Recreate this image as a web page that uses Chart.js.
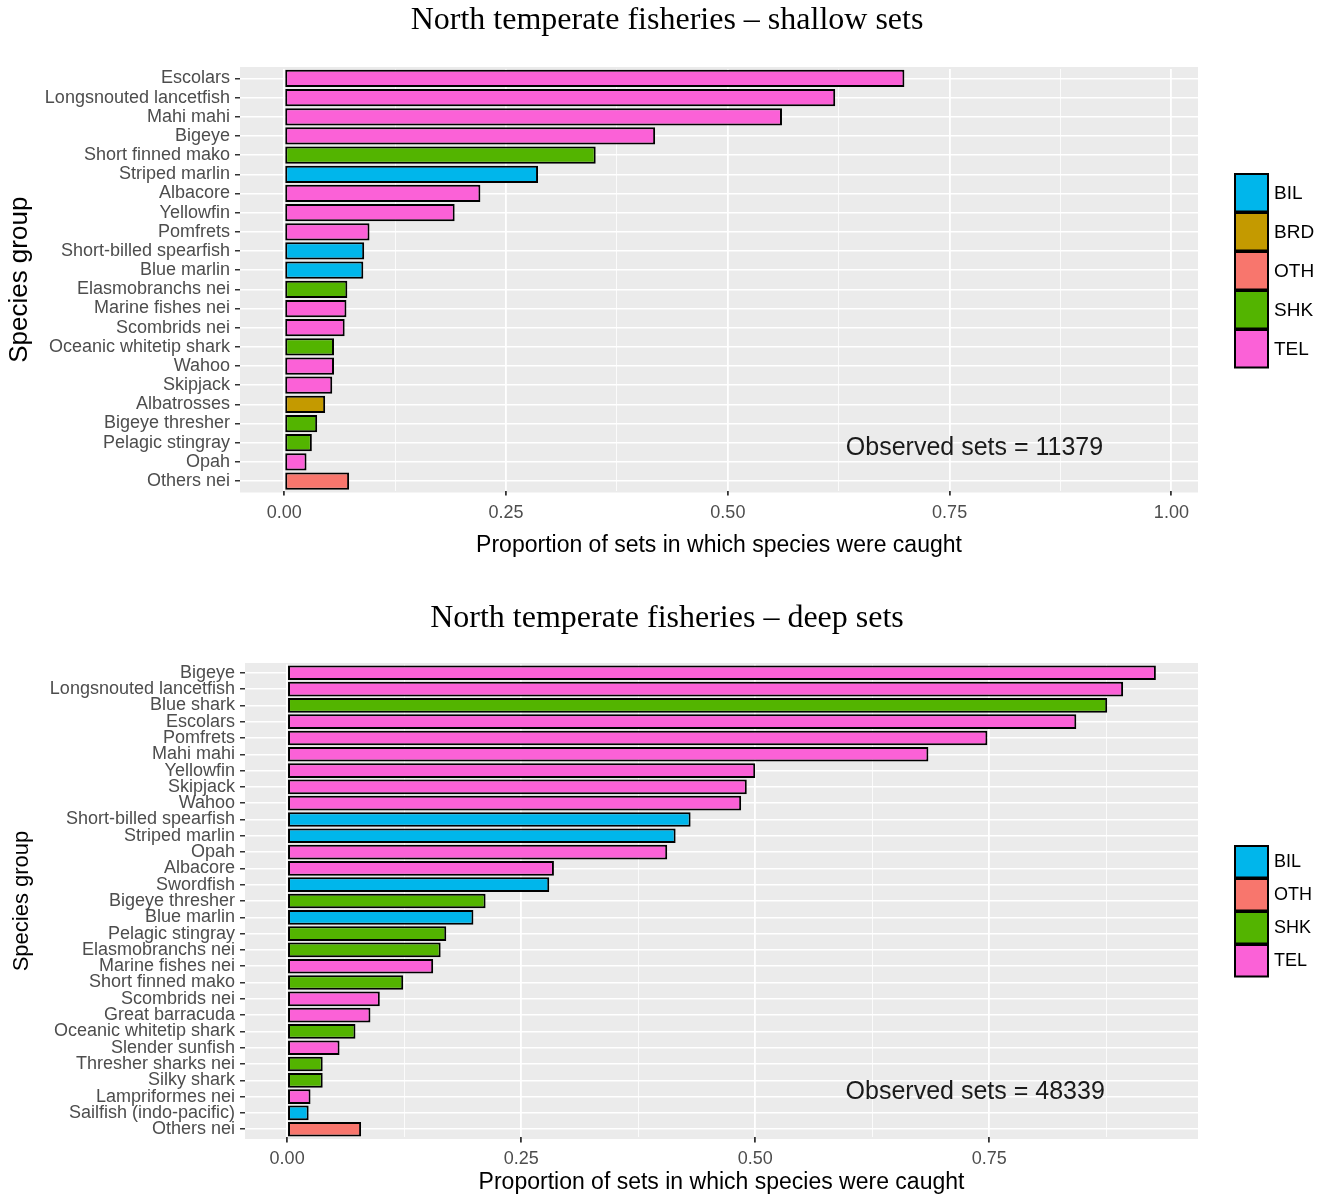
<!DOCTYPE html>
<html>
<head>
<meta charset="utf-8">
<script src="https://cdn.jsdelivr.net/npm/chart.js@4.4.1/dist/chart.umd.min.js"></script>
<style>
body { margin: 0; background: #fff; }
#page { position: relative; width: 1324px; height: 1197px; }
.box { position: absolute; left: 0; width: 1324px; }
#topBox { top: 0; height: 570px; }
#deepBox { top: 590px; height: 607px; }
.title {
    position: absolute; left: 0; width: 1334px; text-align: center;
    font-family: 'Liberation Serif', 'Times New Roman', serif; font-size: 32px; line-height: 38px; color: #000;
}
#topTitle { top: -1px; }
#deepTitle { top: 597px; }
</style>
</head>
<body>
<div id="page">
  <div class="box" id="topBox"><canvas id="topChart"></canvas></div>
  <div class="box" id="deepBox"><canvas id="deepChart"></canvas></div>
  <div class="title" id="topTitle">North temperate fisheries – shallow sets</div>
  <div class="title" id="deepTitle">North temperate fisheries – deep sets</div>
</div>
<script>
// shallow sets
var shallowSpecies = ["Escolars", "Longsnouted lancetfish", "Mahi mahi", "Bigeye", "Short finned mako",
    "Striped marlin", "Albacore", "Yellowfin", "Pomfrets", "Short-billed spearfish", "Blue marlin",
    "Elasmobranchs nei", "Marine fishes nei", "Scombrids nei", "Oceanic whitetip shark", "Wahoo",
    "Skipjack", "Albatrosses", "Bigeye thresher", "Pelagic stingray", "Opah", "Others nei"];
var shallowValues = [0.699, 0.621, 0.561, 0.418, 0.351, 0.286, 0.221, 0.192, 0.096, 0.090, 0.089,
    0.071, 0.070, 0.068, 0.056, 0.056, 0.054, 0.046, 0.037, 0.031, 0.025, 0.073];
var shallowGroups = ["TEL", "TEL", "TEL", "TEL", "SHK", "BIL", "TEL", "TEL", "TEL", "BIL", "BIL",
    "SHK", "TEL", "TEL", "SHK", "TEL", "TEL", "BRD", "SHK", "SHK", "TEL", "OTH"];
var shallowObserved = 11379;

// deep sets
var deepSpecies = ["Bigeye", "Longsnouted lancetfish", "Blue shark", "Escolars", "Pomfrets", "Mahi mahi",
    "Yellowfin", "Skipjack", "Wahoo", "Short-billed spearfish", "Striped marlin", "Opah", "Albacore",
    "Swordfish", "Bigeye thresher", "Blue marlin", "Pelagic stingray", "Elasmobranchs nei",
    "Marine fishes nei", "Short finned mako", "Scombrids nei", "Great barracuda", "Oceanic whitetip shark",
    "Slender sunfish", "Thresher sharks nei", "Silky shark", "Lampriformes nei", "Sailfish (indo-pacific)",
    "Others nei"];
var deepValues = [0.928, 0.893, 0.876, 0.843, 0.748, 0.685, 0.500, 0.491, 0.485, 0.431, 0.415, 0.406,
    0.285, 0.280, 0.212, 0.199, 0.170, 0.164, 0.156, 0.124, 0.099, 0.089, 0.073, 0.056, 0.038, 0.038,
    0.025, 0.023, 0.079];
var deepGroups = ["TEL", "TEL", "SHK", "TEL", "TEL", "TEL", "TEL", "TEL", "TEL", "BIL", "BIL", "TEL",
    "TEL", "BIL", "SHK", "BIL", "SHK", "SHK", "TEL", "SHK", "TEL", "TEL", "SHK", "TEL", "SHK", "SHK",
    "TEL", "BIL", "OTH"];
var deepObserved = 48339;

// x ticks (major every 0.25, minor in between)
var shallowTicks = [0, 0.125, 0.25, 0.375, 0.5, 0.625, 0.75, 0.875, 1];
var deepTicks = [0, 0.125, 0.25, 0.375, 0.5, 0.625, 0.75, 0.875];

var groupColors = { BIL: "#00B6EB", BRD: "#C49A00", OTH: "#F8766D", SHK: "#53B400", TEL: "#FB61D7" };

Chart.defaults.font.family = "'Liberation Sans', Arial, sans-serif";

function isMajor(v) {
    return Math.abs(v * 4 - Math.round(v * 4)) < 1e-6;
}

var panelPlugin = {
    id: "panel",
    beforeDraw: function (chart) {
        var a = chart.chartArea;
        var y = chart.scales.y;
        var step = Math.abs(y.getPixelForValue(1) - y.getPixelForValue(0));
        var ctx = chart.ctx;
        ctx.save();
        ctx.fillStyle = "#EBEBEB";
        ctx.fillRect(a.left, a.top - step * 0.1, a.right - a.left, a.bottom - a.top + step * 0.2);
        ctx.restore();
    }
};

var keyPlugin = {
    id: "keys",
    afterDraw: function (chart, args, opts) {
        var ctx = chart.ctx;
        var groups = opts.groups;
        var x = chart.chartArea.right + opts.gap;
        ctx.save();
        ctx.font = opts.size + "px 'Liberation Sans', Arial, sans-serif";
        ctx.textBaseline = "middle";
        ctx.textAlign = "left";
        groups.forEach(function (g, i) {
            var y = opts.top + i * opts.keyH;
            ctx.fillStyle = groupColors[g];
            ctx.fillRect(x, y, opts.keyW, opts.keyH - 1.5);
            ctx.strokeStyle = "#000";
            ctx.lineWidth = 2;
            ctx.strokeRect(x, y, opts.keyW, opts.keyH - 1.5);
            ctx.fillStyle = "#000";
            ctx.fillText(g, x + opts.keyW + 6, y + opts.keyH / 2);
        });
        ctx.restore();
    }
};

var notePlugin = {
    id: "note",
    afterDatasetsDraw: function (chart, args, opts) {
        var ctx = chart.ctx;
        var x = chart.scales.x.getPixelForValue(opts.x);
        var y = chart.scales.y.getPixelForValue(opts.y);
        ctx.save();
        ctx.font = "25px 'Liberation Sans', Arial, sans-serif";
        ctx.fillStyle = "#1A1A1A";
        ctx.textAlign = "center";
        ctx.textBaseline = "middle";
        ctx.fillText(opts.text, x, y);
        ctx.restore();
    }
};

function BuildChart(canvasId, species, values, groups, tickValues, layout) {
    var colors = groups.map(function (g) { return groupColors[g]; });
    var legendGroups = Array.from(new Set(groups)).sort();
    return new Chart(document.getElementById(canvasId), {
        type: "bar",
        data: {
            labels: species,
            datasets: [{
                data: values,
                backgroundColor: colors,
                borderColor: "#000",
                borderWidth: 2,
                borderSkipped: false,
                barPercentage: 0.9,
                categoryPercentage: 1
            }]
        },
        options: {
            indexAxis: "y",
            responsive: true,
            maintainAspectRatio: false,
            animation: false,
            layout: { padding: { top: layout.top, right: 126 } },
            plugins: {
                legend: { display: false },
                tooltip: { enabled: false },
                keys: { groups: legendGroups, top: layout.keyTop, keyH: layout.keyH, keyW: 33, gap: 37, size: layout.keySize },
                note: { text: "Observed sets = " + layout.observed, x: layout.noteX, y: layout.noteY }
            },
            scales: {
                x: {
                    type: "linear",
                    min: layout.xMin,
                    max: layout.xMax,
                    afterBuildTicks: function (s) {
                        s.ticks = tickValues.map(function (v) { return { value: v }; });
                    },
                    afterFit: function (s) { s.height = layout.xHeight; },
                    border: { display: false },
                    grid: {
                        color: "#fff",
                        lineWidth: function (c) { return isMajor(c.tick.value) ? 1.8 : 0.8; },
                        tickColor: function (c) { return isMajor(c.tick.value) ? "#333" : "rgba(0,0,0,0)"; },
                        tickLength: 5
                    },
                    ticks: {
                        color: "#4D4D4D",
                        font: { size: 18 },
                        padding: layout.xTickPad,
                        maxRotation: 0,
                        autoSkip: false,
                        callback: function (v) { return isMajor(v) ? v.toFixed(2) : ""; }
                    },
                    title: {
                        display: true,
                        text: "Proportion of sets in which species were caught",
                        color: "#000",
                        font: { size: 23 },
                        padding: { top: 0, bottom: layout.xTitlePad }
                    }
                },
                y: {
                    afterFit: function (s) { s.width = layout.yWidth; },
                    border: { display: false },
                    grid: { color: "#fff", lineWidth: 1.5, offset: false, tickColor: "#333", tickLength: 5 },
                    ticks: { color: "#4D4D4D", font: { size: 18 }, padding: 5, autoSkip: false },
                    title: {
                        display: true,
                        text: "Species group",
                        color: "#000",
                        font: { size: layout.yTitleSize },
                        padding: { top: layout.yTitlePad, bottom: 0 }
                    }
                }
            }
        },
        plugins: [panelPlugin, keyPlugin, notePlugin]
    });
}

BuildChart("topChart", shallowSpecies, shallowValues, shallowGroups, shallowTicks, {
    top: 68.9,
    xMin: -0.05, xMax: 1.03, xHeight: 79.4, xTickPad: 6.6, xTitlePad: 10.5,
    yWidth: 240, yTitleSize: 26, yTitlePad: 4.4,
    keyTop: 174, keyH: 39, keySize: 19,
    observed: shallowObserved, noteX: 0.778, noteY: 19.3
});

BuildChart("deepChart", deepSpecies, deepValues, deepGroups, deepTicks, {
    top: 74.6,
    xMin: -0.045, xMax: 0.973, xHeight: 59.6, xTickPad: 5.8, xTitlePad: 0.5,
    yWidth: 245, yTitleSize: 22, yTitlePad: 8.8,
    keyTop: 256, keyH: 33, keySize: 18,
    observed: deepObserved, noteX: 0.735, noteY: 25.7
});
</script>
</body>
</html>
